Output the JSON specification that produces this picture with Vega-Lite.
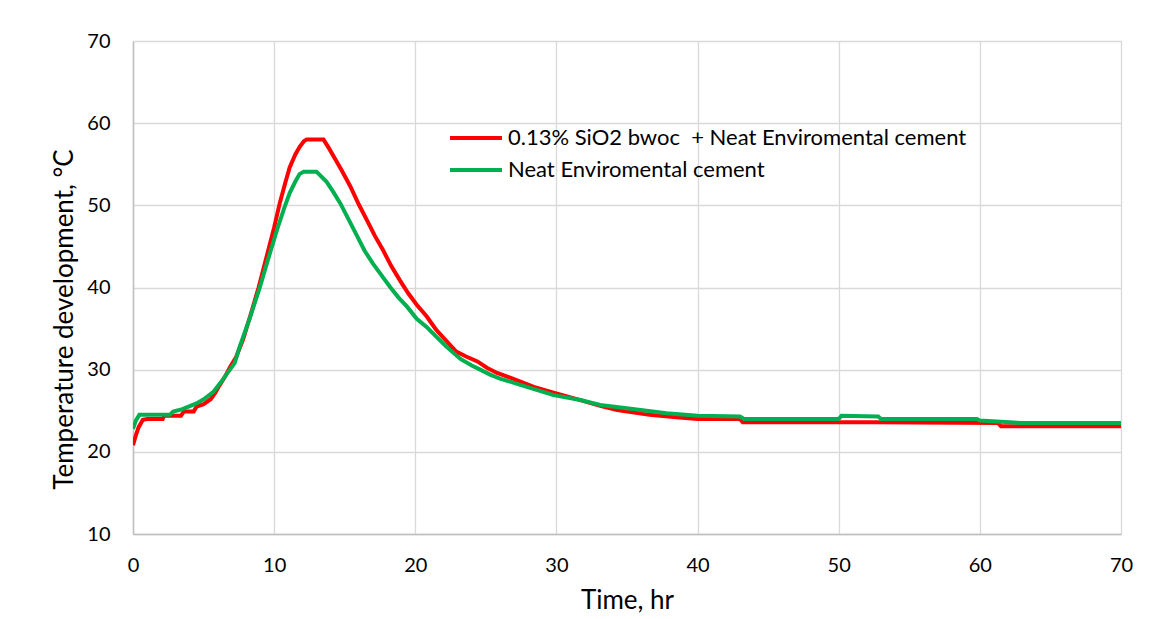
{
  "$schema": "https://vega.github.io/schema/vega-lite/v6.json",
  "width": 988,
  "height": 493,
  "autosize": {"type": "none"},
  "padding": {"left": 133, "top": 41, "right": 32, "bottom": 85},
  "background": "white",
  "config": {
    "view": {"stroke": "#d9d9d9", "strokeWidth": 1},
    "font": "Lato",
    "axis": {
      "labelFont": "Lato", "labelFontSize": 20, "labelColor": "#000000",
      "titleFont": "Lato", "titleFontSize": 26, "titleFontWeight": "normal", "titleColor": "#000000",
      "gridColor": "#d9d9d9", "gridWidth": 1.3, "domainColor": "#bfbfbf", "domainWidth": 1.5,
      "ticks": false, "tickSize": 0, "labelFlush": false
    },
    "legend": {
      "labelFont": "Lato", "labelFontSize": 22, "labelColor": "#000000"
    }
  },
  "datasets": {
    "temp": [
      {"series": "0.13% SiO2 bwoc\u00a0 + Neat Enviromental cement", "t": 0, "v": 20.8},
      {"series": "0.13% SiO2 bwoc\u00a0 + Neat Enviromental cement", "t": 0.2, "v": 22.0},
      {"series": "0.13% SiO2 bwoc\u00a0 + Neat Enviromental cement", "t": 0.4, "v": 23.0},
      {"series": "0.13% SiO2 bwoc\u00a0 + Neat Enviromental cement", "t": 0.7, "v": 23.9},
      {"series": "0.13% SiO2 bwoc\u00a0 + Neat Enviromental cement", "t": 1.0, "v": 24.0},
      {"series": "0.13% SiO2 bwoc\u00a0 + Neat Enviromental cement", "t": 2.1, "v": 24.0},
      {"series": "0.13% SiO2 bwoc\u00a0 + Neat Enviromental cement", "t": 2.2, "v": 24.4},
      {"series": "0.13% SiO2 bwoc\u00a0 + Neat Enviromental cement", "t": 3.4, "v": 24.4},
      {"series": "0.13% SiO2 bwoc\u00a0 + Neat Enviromental cement", "t": 3.6, "v": 24.9},
      {"series": "0.13% SiO2 bwoc\u00a0 + Neat Enviromental cement", "t": 4.3, "v": 24.9},
      {"series": "0.13% SiO2 bwoc\u00a0 + Neat Enviromental cement", "t": 4.5, "v": 25.5},
      {"series": "0.13% SiO2 bwoc\u00a0 + Neat Enviromental cement", "t": 5.0, "v": 25.8},
      {"series": "0.13% SiO2 bwoc\u00a0 + Neat Enviromental cement", "t": 5.5, "v": 26.4},
      {"series": "0.13% SiO2 bwoc\u00a0 + Neat Enviromental cement", "t": 5.8, "v": 27.1},
      {"series": "0.13% SiO2 bwoc\u00a0 + Neat Enviromental cement", "t": 6.1, "v": 28.0},
      {"series": "0.13% SiO2 bwoc\u00a0 + Neat Enviromental cement", "t": 6.5, "v": 29.1},
      {"series": "0.13% SiO2 bwoc\u00a0 + Neat Enviromental cement", "t": 6.9, "v": 30.4},
      {"series": "0.13% SiO2 bwoc\u00a0 + Neat Enviromental cement", "t": 7.3, "v": 31.5},
      {"series": "0.13% SiO2 bwoc\u00a0 + Neat Enviromental cement", "t": 7.8, "v": 33.7},
      {"series": "0.13% SiO2 bwoc\u00a0 + Neat Enviromental cement", "t": 8.3, "v": 36.5},
      {"series": "0.13% SiO2 bwoc\u00a0 + Neat Enviromental cement", "t": 8.9, "v": 40.0},
      {"series": "0.13% SiO2 bwoc\u00a0 + Neat Enviromental cement", "t": 9.5, "v": 44.0},
      {"series": "0.13% SiO2 bwoc\u00a0 + Neat Enviromental cement", "t": 10.0, "v": 47.3},
      {"series": "0.13% SiO2 bwoc\u00a0 + Neat Enviromental cement", "t": 10.4, "v": 50.3},
      {"series": "0.13% SiO2 bwoc\u00a0 + Neat Enviromental cement", "t": 10.8, "v": 52.8},
      {"series": "0.13% SiO2 bwoc\u00a0 + Neat Enviromental cement", "t": 11.1, "v": 54.6},
      {"series": "0.13% SiO2 bwoc\u00a0 + Neat Enviromental cement", "t": 11.5, "v": 56.2},
      {"series": "0.13% SiO2 bwoc\u00a0 + Neat Enviromental cement", "t": 11.8, "v": 57.1},
      {"series": "0.13% SiO2 bwoc\u00a0 + Neat Enviromental cement", "t": 12.1, "v": 57.8},
      {"series": "0.13% SiO2 bwoc\u00a0 + Neat Enviromental cement", "t": 12.3, "v": 58.0},
      {"series": "0.13% SiO2 bwoc\u00a0 + Neat Enviromental cement", "t": 13.5, "v": 58.0},
      {"series": "0.13% SiO2 bwoc\u00a0 + Neat Enviromental cement", "t": 13.9, "v": 56.9},
      {"series": "0.13% SiO2 bwoc\u00a0 + Neat Enviromental cement", "t": 14.2, "v": 56.0},
      {"series": "0.13% SiO2 bwoc\u00a0 + Neat Enviromental cement", "t": 14.8, "v": 54.2},
      {"series": "0.13% SiO2 bwoc\u00a0 + Neat Enviromental cement", "t": 15.4, "v": 52.3},
      {"series": "0.13% SiO2 bwoc\u00a0 + Neat Enviromental cement", "t": 16.0, "v": 50.1},
      {"series": "0.13% SiO2 bwoc\u00a0 + Neat Enviromental cement", "t": 16.6, "v": 48.1},
      {"series": "0.13% SiO2 bwoc\u00a0 + Neat Enviromental cement", "t": 17.1, "v": 46.4},
      {"series": "0.13% SiO2 bwoc\u00a0 + Neat Enviromental cement", "t": 17.7, "v": 44.6},
      {"series": "0.13% SiO2 bwoc\u00a0 + Neat Enviromental cement", "t": 18.3, "v": 42.6},
      {"series": "0.13% SiO2 bwoc\u00a0 + Neat Enviromental cement", "t": 18.9, "v": 40.9},
      {"series": "0.13% SiO2 bwoc\u00a0 + Neat Enviromental cement", "t": 19.5, "v": 39.3},
      {"series": "0.13% SiO2 bwoc\u00a0 + Neat Enviromental cement", "t": 20.1, "v": 37.9},
      {"series": "0.13% SiO2 bwoc\u00a0 + Neat Enviromental cement", "t": 20.8, "v": 36.5},
      {"series": "0.13% SiO2 bwoc\u00a0 + Neat Enviromental cement", "t": 21.5, "v": 34.8},
      {"series": "0.13% SiO2 bwoc\u00a0 + Neat Enviromental cement", "t": 22.2, "v": 33.5},
      {"series": "0.13% SiO2 bwoc\u00a0 + Neat Enviromental cement", "t": 22.9, "v": 32.2},
      {"series": "0.13% SiO2 bwoc\u00a0 + Neat Enviromental cement", "t": 23.6, "v": 31.6},
      {"series": "0.13% SiO2 bwoc\u00a0 + Neat Enviromental cement", "t": 24.4, "v": 31.0},
      {"series": "0.13% SiO2 bwoc\u00a0 + Neat Enviromental cement", "t": 25.1, "v": 30.2},
      {"series": "0.13% SiO2 bwoc\u00a0 + Neat Enviromental cement", "t": 25.8, "v": 29.6},
      {"series": "0.13% SiO2 bwoc\u00a0 + Neat Enviromental cement", "t": 26.9, "v": 28.9},
      {"series": "0.13% SiO2 bwoc\u00a0 + Neat Enviromental cement", "t": 28.4, "v": 27.9},
      {"series": "0.13% SiO2 bwoc\u00a0 + Neat Enviromental cement", "t": 29.8, "v": 27.2},
      {"series": "0.13% SiO2 bwoc\u00a0 + Neat Enviromental cement", "t": 31.7, "v": 26.3},
      {"series": "0.13% SiO2 bwoc\u00a0 + Neat Enviromental cement", "t": 33.1, "v": 25.6},
      {"series": "0.13% SiO2 bwoc\u00a0 + Neat Enviromental cement", "t": 34.3, "v": 25.1},
      {"series": "0.13% SiO2 bwoc\u00a0 + Neat Enviromental cement", "t": 36.6, "v": 24.5},
      {"series": "0.13% SiO2 bwoc\u00a0 + Neat Enviromental cement", "t": 38.5, "v": 24.2},
      {"series": "0.13% SiO2 bwoc\u00a0 + Neat Enviromental cement", "t": 40.0, "v": 24.0},
      {"series": "0.13% SiO2 bwoc\u00a0 + Neat Enviromental cement", "t": 43.0, "v": 24.0},
      {"series": "0.13% SiO2 bwoc\u00a0 + Neat Enviromental cement", "t": 43.2, "v": 23.6},
      {"series": "0.13% SiO2 bwoc\u00a0 + Neat Enviromental cement", "t": 52.5, "v": 23.6},
      {"series": "0.13% SiO2 bwoc\u00a0 + Neat Enviromental cement", "t": 61.3, "v": 23.5},
      {"series": "0.13% SiO2 bwoc\u00a0 + Neat Enviromental cement", "t": 61.5, "v": 23.1},
      {"series": "0.13% SiO2 bwoc\u00a0 + Neat Enviromental cement", "t": 70.0, "v": 23.1},
      {"series": "Neat Enviromental cement", "t": 0, "v": 22.8},
      {"series": "Neat Enviromental cement", "t": 0.2, "v": 23.8},
      {"series": "Neat Enviromental cement", "t": 0.45, "v": 24.5},
      {"series": "Neat Enviromental cement", "t": 2.6, "v": 24.5},
      {"series": "Neat Enviromental cement", "t": 2.85, "v": 24.9},
      {"series": "Neat Enviromental cement", "t": 3.5, "v": 25.2},
      {"series": "Neat Enviromental cement", "t": 4.5, "v": 25.9},
      {"series": "Neat Enviromental cement", "t": 5.1, "v": 26.5},
      {"series": "Neat Enviromental cement", "t": 5.7, "v": 27.3},
      {"series": "Neat Enviromental cement", "t": 6.2, "v": 28.4},
      {"series": "Neat Enviromental cement", "t": 6.7, "v": 29.6},
      {"series": "Neat Enviromental cement", "t": 7.2, "v": 30.8},
      {"series": "Neat Enviromental cement", "t": 7.6, "v": 33.0},
      {"series": "Neat Enviromental cement", "t": 8.3, "v": 36.4},
      {"series": "Neat Enviromental cement", "t": 9.0, "v": 40.1},
      {"series": "Neat Enviromental cement", "t": 9.6, "v": 43.6},
      {"series": "Neat Enviromental cement", "t": 10.2, "v": 47.0},
      {"series": "Neat Enviromental cement", "t": 10.7, "v": 49.6},
      {"series": "Neat Enviromental cement", "t": 11.1, "v": 51.5},
      {"series": "Neat Enviromental cement", "t": 11.5, "v": 52.9},
      {"series": "Neat Enviromental cement", "t": 11.8, "v": 53.8},
      {"series": "Neat Enviromental cement", "t": 12.1, "v": 54.1},
      {"series": "Neat Enviromental cement", "t": 13.0, "v": 54.1},
      {"series": "Neat Enviromental cement", "t": 13.7, "v": 52.9},
      {"series": "Neat Enviromental cement", "t": 14.2, "v": 51.6},
      {"series": "Neat Enviromental cement", "t": 14.7, "v": 50.2},
      {"series": "Neat Enviromental cement", "t": 15.3, "v": 48.2},
      {"series": "Neat Enviromental cement", "t": 15.9, "v": 46.2},
      {"series": "Neat Enviromental cement", "t": 16.4, "v": 44.5},
      {"series": "Neat Enviromental cement", "t": 17.0, "v": 42.9},
      {"series": "Neat Enviromental cement", "t": 17.6, "v": 41.5},
      {"series": "Neat Enviromental cement", "t": 18.2, "v": 40.1},
      {"series": "Neat Enviromental cement", "t": 18.8, "v": 38.8},
      {"series": "Neat Enviromental cement", "t": 19.4, "v": 37.7},
      {"series": "Neat Enviromental cement", "t": 20.1, "v": 36.2},
      {"series": "Neat Enviromental cement", "t": 20.8, "v": 35.2},
      {"series": "Neat Enviromental cement", "t": 21.5, "v": 34.0},
      {"series": "Neat Enviromental cement", "t": 22.2, "v": 32.8},
      {"series": "Neat Enviromental cement", "t": 23.2, "v": 31.3},
      {"series": "Neat Enviromental cement", "t": 24.0, "v": 30.5},
      {"series": "Neat Enviromental cement", "t": 24.6, "v": 30.0},
      {"series": "Neat Enviromental cement", "t": 25.3, "v": 29.4},
      {"series": "Neat Enviromental cement", "t": 26.0, "v": 28.9},
      {"series": "Neat Enviromental cement", "t": 27.0, "v": 28.4},
      {"series": "Neat Enviromental cement", "t": 27.9, "v": 27.9},
      {"series": "Neat Enviromental cement", "t": 29.8, "v": 26.9},
      {"series": "Neat Enviromental cement", "t": 31.7, "v": 26.3},
      {"series": "Neat Enviromental cement", "t": 33.1, "v": 25.7},
      {"series": "Neat Enviromental cement", "t": 35.4, "v": 25.2},
      {"series": "Neat Enviromental cement", "t": 37.8, "v": 24.7},
      {"series": "Neat Enviromental cement", "t": 40.0, "v": 24.4},
      {"series": "Neat Enviromental cement", "t": 43.0, "v": 24.3},
      {"series": "Neat Enviromental cement", "t": 43.3, "v": 24.0},
      {"series": "Neat Enviromental cement", "t": 50.0, "v": 24.0},
      {"series": "Neat Enviromental cement", "t": 50.2, "v": 24.4},
      {"series": "Neat Enviromental cement", "t": 52.8, "v": 24.3},
      {"series": "Neat Enviromental cement", "t": 53.0, "v": 24.0},
      {"series": "Neat Enviromental cement", "t": 59.8, "v": 24.0},
      {"series": "Neat Enviromental cement", "t": 60.0, "v": 23.8},
      {"series": "Neat Enviromental cement", "t": 63.0, "v": 23.5},
      {"series": "Neat Enviromental cement", "t": 70.0, "v": 23.5}
    ]
  },
  "data": {"name": "temp"},
  "mark": {"type": "line", "strokeWidth": 4, "clip": true},
  "encoding": {
    "x": {
      "field": "t", "type": "quantitative",
      "scale": {"domain": [0, 70], "nice": false},
      "axis": {"values": [0, 10, 20, 30, 40, 50, 60, 70], "title": "Time, hr", "labelPadding": 21, "titlePadding": 12}
    },
    "y": {
      "field": "v", "type": "quantitative",
      "scale": {"domain": [10, 70], "nice": false, "zero": false},
      "axis": {"values": [10, 20, 30, 40, 50, 60, 70], "title": "Temperature development, \u00b0C", "labelPadding": 23, "titlePadding": 9, "titleY": 278, "titleAlign": "center"}
    },
    "color": {
      "field": "series", "type": "nominal",
      "scale": {
        "domain": ["0.13% SiO2 bwoc\u00a0 + Neat Enviromental cement", "Neat Enviromental cement"],
        "range": ["#ff0000", "#00b050"]
      },
      "legend": {
        "title": null, "orient": "none", "legendX": 315, "legendY": 85,
        "symbolType": "stroke", "symbolSize": 2704, "symbolStrokeWidth": 4,
        "clipHeight": 24, "rowPadding": 8, "labelOffset": 4, "labelLimit": 700
      }
    },
    "order": {"field": "t", "type": "quantitative"}
  }
}
